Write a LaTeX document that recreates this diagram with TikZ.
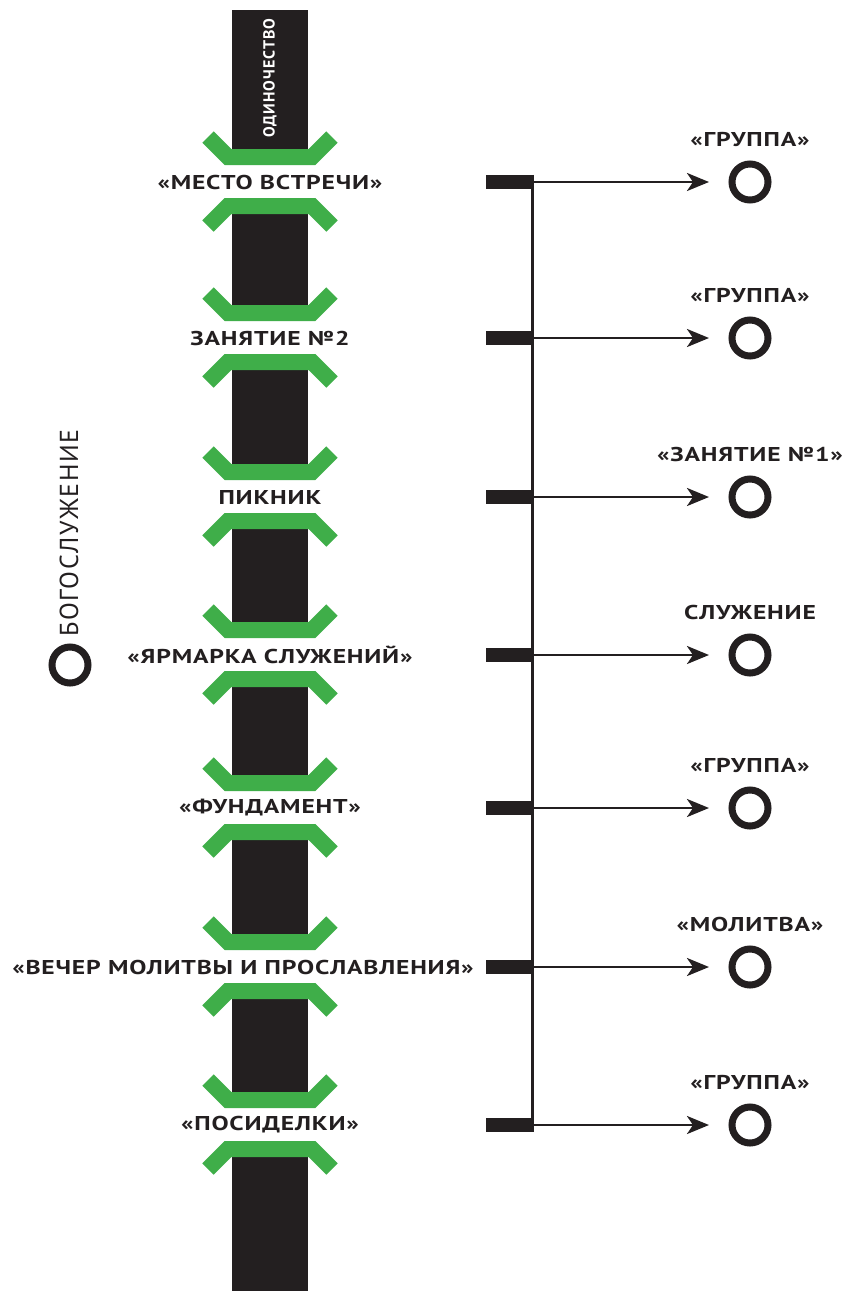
\documentclass[tikz,border=0pt]{standalone}
\usepackage{fontspec}
\setmainfont{PT Sans}[FakeStretch=1.28,LetterSpace=4]
\newfontfamily\plainfont{PT Sans}[LetterSpace=6]
\usetikzlibrary{arrows.meta,positioning}
\definecolor{ink}{RGB}{35,31,32}
\definecolor{leaf}{RGB}{63,174,73}
\begin{document}
\begin{tikzpicture}[x=1pt,y=-1pt,
    txt/.style={text=ink,font=\fontsize{20}{23}\selectfont\bfseries,inner sep=1pt},
    bracket/.style={draw=leaf,line width=16pt,miter limit=10},
    tab/.style={fill=ink,minimum width=45pt,minimum height=14pt,inner sep=0pt},
    ring/.style={circle,draw=ink,line width=7pt,minimum size=36pt,inner sep=0pt},
    arr/.style={draw=ink,line width=2.8pt,-{Stealth[length=22pt,width=18pt,inset=6pt]},shorten >=19.5pt}]
    \useasboundingbox (0,0) rectangle (848,1291);
    % the black strip
    \fill[ink] (232,10) rectangle (308,1291);
    \node[text=white,rotate=90,inner sep=0pt,font=\plainfont\fontsize{16}{18}\selectfont\bfseries] (alone) at (270,78) {ОДИНОЧЕСТВО};
    % rows: y / x of the label / label / goal
    \foreach \y/\x/\place/\goal [count=\i] in {
        182/270/{«МЕСТО ВСТРЕЧИ»}/{«ГРУППА»},
        338/270/{ЗАНЯТИЕ №2}/{«ГРУППА»},
        497/270/{ПИКНИК}/{«ЗАНЯТИЕ №1»},
        655/270/{«ЯРМАРКА СЛУЖЕНИЙ»}/{СЛУЖЕНИЕ},
        808/270/{«ФУНДАМЕНТ»}/{«ГРУППА»},
        967/243/{«ВЕЧЕР МОЛИТВЫ И ПРОСЛАВЛЕНИЯ»}/{«МОЛИТВА»},
        1125/270/{«ПОСИДЕЛКИ»}/{«ГРУППА»}} {
        \fill[white] (232,\y-17) rectangle (308,\y+16);
        \draw[bracket] (208,\y-45) -- (228,\y-25) -- (312,\y-25) -- (332,\y-45);
        \draw[bracket] (208,\y+44) -- (228,\y+24) -- (312,\y+24) -- (332,\y+44);
        \node[txt] (place\i) at (\x,\y) {\place};
        \node[tab] (tab\i) at (508.5,\y) {};
        \node[ring] (ring\i) at (750,\y) {};
        \node[txt,above=13pt of ring\i] (goal\i) {\goal};
        \draw[arr] (tab\i.east) -- (ring\i.west);
    }
    \draw[ink,line width=3pt] ([xshift=1.5pt]tab1.north east) -- ([xshift=1.5pt]tab7.south east);
    % left side
    \node[ring] (worship) at (70,665) {};
    \node[text=ink,rotate=90,inner sep=0pt,font=\plainfont\fontsize{26}{28}\selectfont] (worshiplbl) at (69,533) {БОГОСЛУЖЕНИЕ};
\end{tikzpicture}
\end{document}
